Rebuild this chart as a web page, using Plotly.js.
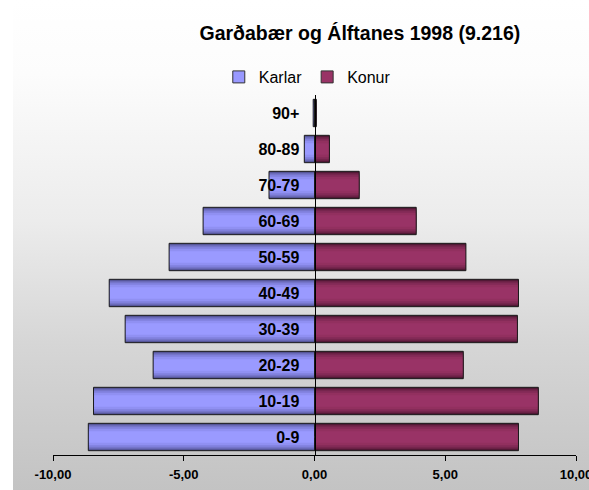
<!DOCTYPE html>
<html>
<head>
<meta charset="utf-8">
<script src="https://cdn.plot.ly/plotly-3.0.1.min.js"></script>
<style>
  html, body { margin: 0; padding: 0; background: #ffffff; }
  #bg { position: absolute; left: 13px; top: 0; width: 576px; height: 490px;
        background: linear-gradient(to bottom, #ffffff 0%, #fcfcfc 15%, #ececec 45%, #d6d6d6 70%, #c3c3c3 100%); }
  #chart { position: absolute; left: 0; top: 0; width: 589px; height: 490px; }
</style>
</head>
<body>
<div id="bg"></div>
<div id="chart"></div>
<script>
// Data (percent of population, 1998)
const ageGroups = ['0-9', '10-19', '20-29', '30-39', '40-49', '50-59', '60-69', '70-79', '80-89', '90+'];
const karlar = [-8.65, -8.45, -6.17, -7.24, -7.85, -5.56, -4.26, -1.74, -0.39, -0.05];
const konur  = [7.80, 8.56, 5.69, 7.76, 7.80, 5.79, 3.89, 1.71, 0.57, 0.07];
const tickVals = [-10, -5, 0, 5, 10];
const tickText = ['-10,00', '-5,00', '0,00', '5,00', '10,00'];

// Pseudo-gradient layers (outer dark -> inner light)
const layerWidths = [0.76, 0.68, 0.58, 0.46, 0.32];
const karlarShades = ['#50508f', '#6a6ab8', '#8080dc', '#9090f2', '#9a9aff'];
const konurShades  = ['#4a1630', '#6a2145', '#822a56', '#92305f', '#993366'];

const traces = [];
function addSeries(values, shades, name) {
  layerWidths.forEach((w, i) => {
    traces.push({
      type: 'bar', orientation: 'h', x: values, y: ageGroups,
      width: w, marker: { color: shades[i], line: { width: 0 } },
      showlegend: false, hoverinfo: 'skip', legendgroup: name
    });
  });
  traces.push({
    type: 'bar', orientation: 'h', x: values, y: ageGroups,
    width: layerWidths[0], marker: { color: 'rgba(0,0,0,0)', line: { color: '#1a1a1a', width: 1 } },
    showlegend: false, name: name, legendgroup: name
  });
}
addSeries(karlar, karlarShades, 'Karlar');
addSeries(konur, konurShades, 'Konur');
// legend entries (zero-length bars hidden under the zero line)
traces.push({ type: 'bar', orientation: 'h', x: [0], y: [ageGroups[0]], width: 0.01, name: 'Karlar',
  marker: { color: '#9999ff', line: { color: '#333333', width: 1 } }, legendgroup: 'Karlar', showlegend: true });
traces.push({ type: 'bar', orientation: 'h', x: [0], y: [ageGroups[0]], width: 0.01, name: 'Konur',
  marker: { color: '#993366', line: { color: '#333333', width: 1 } }, legendgroup: 'Konur', showlegend: true });

const layout = {
  width: 589, height: 490,
  margin: { l: 53, r: 13, t: 95, b: 35 },
  paper_bgcolor: 'rgba(0,0,0,0)', plot_bgcolor: 'rgba(0,0,0,0)',
  barmode: 'overlay',
  font: { family: 'Liberation Sans, Arial, sans-serif', color: '#000000' },
  title: {
    text: '<b>Garðabær og Álftanes 1998 (9.216)</b>',
    font: { size: 19.5, family: 'Liberation Sans, Arial, sans-serif', color: '#000000' },
    x: 0.611, xanchor: 'center', xref: 'container',
    y: 0.933, yanchor: 'middle', yref: 'container'
  },
  legend: {
    orientation: 'h', x: 0.317, xanchor: 'left', y: 1.05, yanchor: 'middle',
    font: { size: 16, family: 'Liberation Sans, Arial, sans-serif' },
    bgcolor: 'rgba(0,0,0,0)', traceorder: 'normal', itemwidth: 30
  },
  xaxis: {
    range: [-10, 10], tickmode: 'array', tickvals: tickVals, ticktext: tickText,
    ticks: 'outside', ticklen: 5, tickcolor: '#000000', tickwidth: 1,
    showline: true, linecolor: '#000000', linewidth: 1,
    showgrid: false, zeroline: false, automargin: false,
    ticklabeloverflow: 'allow', ticklabelstandoff: 2,
    tickfont: { size: 13, family: 'Liberation Sans, Arial, sans-serif', weight: 'bold', color: '#000000' }
  },
  yaxis: {
    type: 'category', categoryorder: 'array', categoryarray: ageGroups,
    anchor: 'free', position: 0.5, showline: true, linecolor: '#000000', linewidth: 1.5,
    ticks: '', ticklabelstandoff: 12, showgrid: false, zeroline: false, automargin: false,
    tickfont: { size: 16, family: 'Liberation Sans, Arial, sans-serif', weight: 'bold', color: '#000000' },
    layer: 'above traces'
  },
  showlegend: true
};

Plotly.newPlot('chart', traces, layout, { displayModeBar: false, staticPlot: true });
</script>
</body>
</html>
